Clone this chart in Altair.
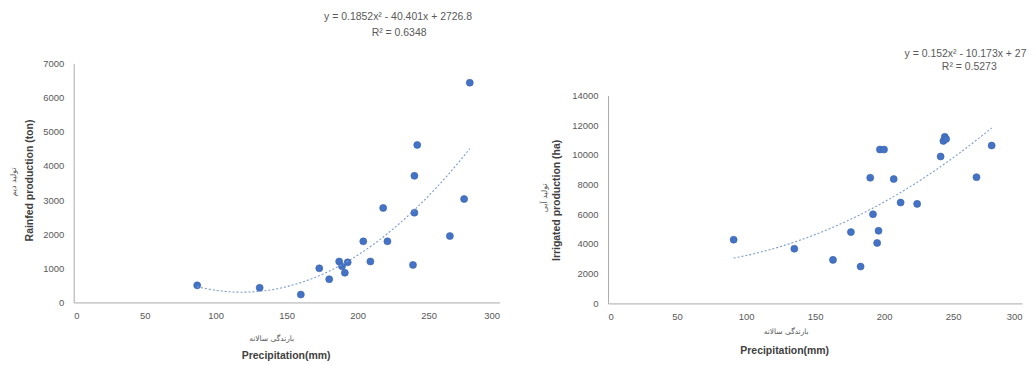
import altair as alt
import pandas as pd

# ---- data ----
rain_precip = [87, 131, 160, 173, 180, 187, 189, 191, 193, 204, 209, 218, 221,
               239, 240, 240, 242, 265, 275, 279]
rain_prod = [500, 430, 230, 1000, 680, 1200, 1060, 870, 1175, 1790, 1200, 2770,
             1790, 1100, 2630, 3710, 4615, 1945, 3030, 6440]

irr_precip = [91, 135, 163, 176, 183, 190, 192, 195, 196, 197, 200, 207, 212,
              224, 241, 243, 244, 245, 267, 278]
irr_prod = [4290, 3680, 2930, 4800, 2480, 8460, 6000, 4070, 4890, 10360, 10360,
            8370, 6790, 6700, 9890, 10940, 11210, 11070, 8500, 10630]

x_ticks = [0, 50, 100, 150, 200, 250, 300]
rain_ticks = [0, 1000, 2000, 3000, 4000, 5000, 6000, 7000]
irr_ticks = [0, 2000, 4000, 6000, 8000, 10000, 12000, 14000]

rain_eq = ["y = 0.1852x\u00b2 - 40.401x + 2726.8", "R\u00b2 = 0.6348"]
irr_eq = ["y = 0.152x\u00b2 - 10.173x + 2796.8", "R\u00b2 = 0.5273"]

x_title_fa = "بارندگی سالانه"
x_title_en = "Precipitation(mm)"
rain_title_fa = "تولید دیم"
rain_title_en = "Rainfed production (ton)"
irr_title_fa = "تولید آبی"
irr_title_en = "Irrigated production (ha)"

rain_df = pd.DataFrame({"p": rain_precip, "v": rain_prod})
irr_df = pd.DataFrame({"p": irr_precip, "v": irr_prod})
one = pd.DataFrame({"k": [0]})

BLUE = "#4472C4"
GREY = "#595959"
FONT = "Liberation Sans"
EQ_SIZE = 10.5


def panel(df, yticks, ymax, w, h, yrange, t_en_y, t_fa_y, t_en_x, t_fa_x,
          eq, eq_pos):
    xs = alt.Scale(domain=[0, 300], nice=False)
    ys = alt.Scale(domain=[0, ymax], nice=False, range=yrange)
    x_ax = alt.Axis(values=x_ticks, format="d", labelOverlap=False,
                    title=x_title_en, titleX=t_en_x[0],
                    titleY=t_en_x[1], titleAlign="center",
                    titleBaseline="middle", titleAngle=0)
    y_ax = alt.Axis(values=yticks, format="d", labelOverlap=False,
                    title=t_en_y[2], titleX=t_en_y[0],
                    titleY=t_en_y[1], titleAlign="center",
                    titleBaseline="middle", titleAngle=270)
    pts = alt.Chart(df).mark_point(filled=True, size=50, color=BLUE,
                                   opacity=1, stroke="#3b64ad",
                                   strokeWidth=0.6).encode(
        x=alt.X("p:Q", scale=xs, axis=x_ax),
        y=alt.Y("v:Q", scale=ys, axis=y_ax),
    )
    trend = alt.Chart(df).transform_regression(
        "p", "v", method="poly", order=2
    ).mark_line(color="#7b9bd0", strokeDash=[2, 2], strokeWidth=1.1).encode(
        x=alt.X("p:Q", scale=xs, axis=x_ax),
        y=alt.Y("v:Q", scale=ys, axis=y_ax)
    )
    layers = [pts, trend]
    # persian y title
    layers.append(alt.Chart(one).mark_text(
        angle=270, font="DejaVu Sans", fontSize=8, color=GREY,
        align="center", baseline="middle").encode(
        x=alt.value(t_fa_y[0]), y=alt.value(t_fa_y[1]),
        text=alt.value(t_fa_y[2])))
    # persian x title
    layers.append(alt.Chart(one).mark_text(
        font="DejaVu Sans", fontSize=7.5, color=GREY,
        align="center", baseline="middle").encode(
        x=alt.value(t_fa_x[0]), y=alt.value(t_fa_x[1]),
        text=alt.value(x_title_fa)))
    # equation
    ex, ey1, ey2, ealign, ex2, lim = eq_pos
    kw = dict(font=FONT, fontSize=EQ_SIZE, color=GREY, baseline="middle")
    if lim:
        kw["limit"] = lim
        kw["ellipsis"] = "\u200a"
    layers.append(alt.Chart(one).mark_text(align=ealign, **kw).encode(
        x=alt.value(ex), y=alt.value(ey1), text=alt.value(eq[0])))
    layers.append(alt.Chart(one).mark_text(
        align="center", font=FONT, fontSize=EQ_SIZE, color=GREY,
        baseline="middle").encode(
        x=alt.value(ex2), y=alt.value(ey2), text=alt.value(eq[1])))
    return alt.layer(*layers).properties(width=w, height=h)


left = panel(rain_df, rain_ticks, 7000, 428, 240, [240, 0],
             t_en_y=(-44, 117, rain_title_en),
             t_fa_y=(-60, 119, rain_title_fa),
             t_en_x=(213, 53), t_fa_x=(199, 277),
             eq=rain_eq, eq_pos=(326, -47, -31, "center", 327, None))

right = panel(irr_df, irr_ticks, 14000, 416, 241, [241, 32],
              t_en_y=(-52, 137, irr_title_en),
              t_fa_y=(-63, 135, irr_title_fa),
              t_en_x=(177, 47), t_fa_x=(179, 270),
              eq=irr_eq, eq_pos=(298, -10, 3, "left", 363, 126))

chart = alt.hconcat(left, right, spacing=42).properties(
    padding={"left": 2, "top": 3, "right": 0, "bottom": 0}
).configure_view(stroke=None).configure_axis(
    grid=False, ticks=False, domainColor="#a9a9a9", domainWidth=1,
    labelColor=GREY, labelFont=FONT, labelFontSize=9.5, labelPadding=8,
    titleColor="#404040", titleFont=FONT, titleFontSize=10.5,
    titleFontWeight="bold"
).configure_axisY(labelPadding=10)

chart.save("out.html", embed_options={"renderer": "svg", "actions": False})
